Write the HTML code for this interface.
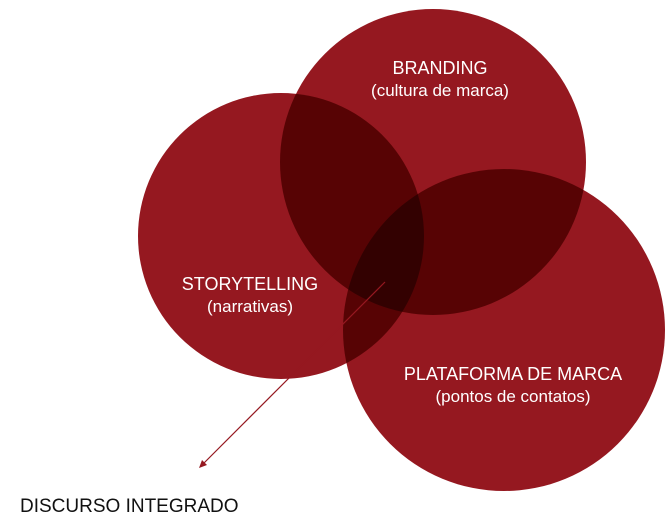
<!DOCTYPE html>
<html><head><meta charset="utf-8"><style>
html,body{margin:0;padding:0;background:#fff;width:670px;height:522px;overflow:hidden}
svg{display:block}
circle{mix-blend-mode:multiply}
text{font-family:"Liberation Sans Narrow","Liberation Sans",sans-serif}
</style></head><body>
<svg width="670" height="522" viewBox="0 0 670 522" xmlns="http://www.w3.org/2000/svg">
<g style="isolation:isolate">
<circle cx="433" cy="162" r="153" fill="#951820"/>
<circle cx="281" cy="236" r="143" fill="#951820"/>
<circle cx="504" cy="330" r="161" fill="#951820"/>
</g>
<line x1="385" y1="282" x2="202" y2="465" stroke="#951820" stroke-width="1.2"/>
<polygon points="199,468 202,460 207,465" fill="#951820"/>
<g fill="#fff" text-anchor="middle" font-size="18">
<text x="440" y="74">BRANDING</text>
<text x="440" y="96" font-size="17">(cultura de marca)</text>
<text x="250" y="290">STORYTELLING</text>
<text x="250" y="312" font-size="17">(narrativas)</text>
<text x="513" y="380">PLATAFORMA DE MARCA</text>
<text x="513" y="402" font-size="17">(pontos de contatos)</text>
</g>
<text x="20" y="512" font-size="19" fill="#111">DISCURSO INTEGRADO</text>
</svg>
</body></html>
